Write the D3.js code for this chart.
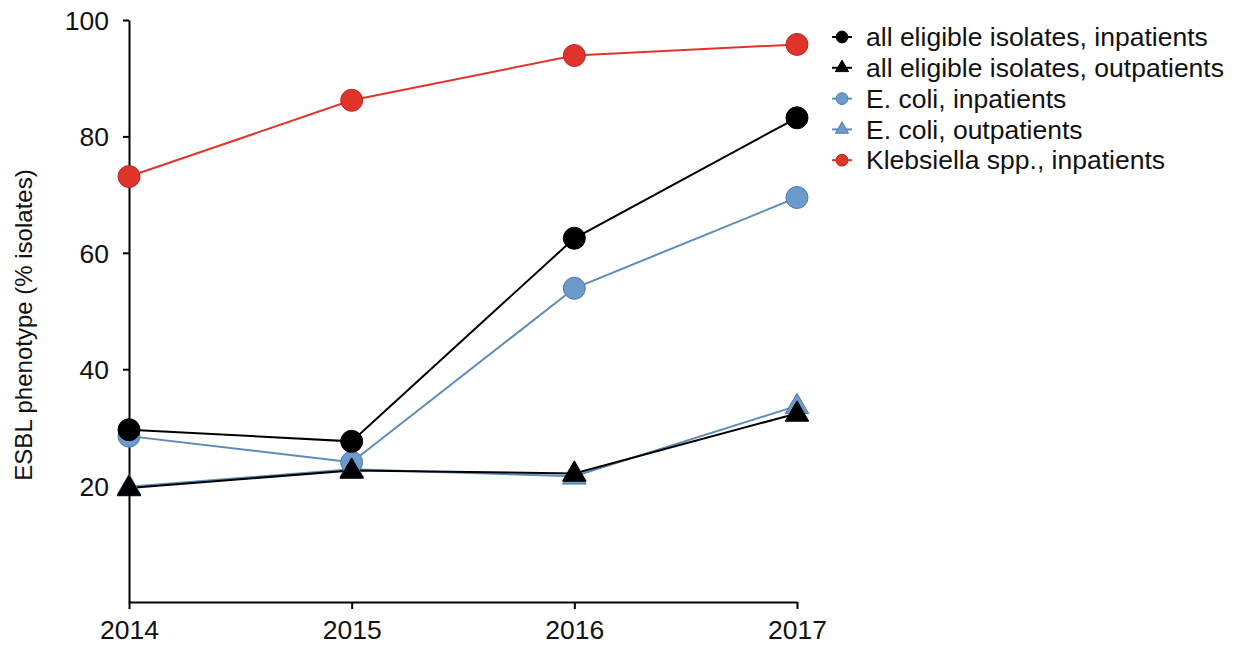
<!DOCTYPE html>
<html>
<head>
<meta charset="utf-8">
<script src="https://cdn.jsdelivr.net/npm/d3@7/dist/d3.min.js"></script>
<style>
  html, body { margin: 0; padding: 0; background: #fff; }
  svg text { font-family: "Liberation Sans", Arial, Helvetica, sans-serif; fill: #111; }
</style>
</head>
<body>
<svg id="chart" width="1234" height="647"></svg>
<script>
// Survey years on the x axis
const years = [2014, 2015, 2016, 2017];
// ESBL phenotype share (% of isolates) per series
const allInpatients = [29.6, 27.6, 62.5, 83.2];
const allOutpatients = [19.6, 22.6, 22.1, 32.4];
const ecoliInpatients = [28.5, 24.0, 53.9, 69.5];
const ecoliOutpatients = [19.8, 22.8, 21.6, 33.7];
const klebsiellaInpatients = [73.1, 86.2, 93.9, 95.8];
const yTicks = [20, 40, 60, 80, 100];

// Series in draw order (later ones sit on top)
const series = [
  { name: "E. coli, outpatients", values: ecoliOutpatients, shape: "triangle", fill: "#6b9acb", stroke: "#4f7ba8", line: "#5f8bb8" },
  { name: "E. coli, inpatients", values: ecoliInpatients, shape: "circle", fill: "#6b9acb", stroke: "#4f7ba8", line: "#5f8bb8" },
  { name: "all eligible isolates, outpatients", values: allOutpatients, shape: "triangle", fill: "#000", stroke: "#000", line: "#000" },
  { name: "all eligible isolates, inpatients", values: allInpatients, shape: "circle", fill: "#000", stroke: "#000", line: "#000" },
  { name: "Klebsiella spp., inpatients", values: klebsiellaInpatients, shape: "circle", fill: "#e0342a", stroke: "#b32a22", line: "#e0342a" }
];
const legendOrder = [
  "all eligible isolates, inpatients",
  "all eligible isolates, outpatients",
  "E. coli, inpatients",
  "E. coli, outpatients",
  "Klebsiella spp., inpatients"
];

const svg = d3.select("#chart");
const margin = { left: 129, top: 20 };
const width = 668, height = 582;

const x = d3.scalePoint().domain(years).range([0, width]);
const y = d3.scaleLinear().domain([0, 100]).range([height, 0]);

const g = svg.append("g").attr("transform", `translate(${margin.left},${margin.top})`);

// Axes
const yAxis = g.append("g")
  .call(d3.axisLeft(y).tickValues(yTicks).tickSize(6).tickSizeOuter(0).tickFormat(d3.format("d")));
const xAxis = g.append("g").attr("transform", `translate(0,${height})`)
  .call(d3.axisBottom(x).tickSize(7).tickSizeOuter(0).tickFormat(d3.format("d")));
[yAxis, xAxis].forEach(a => {
  a.select(".domain").attr("stroke", "#000").attr("stroke-width", 2);
  a.selectAll(".tick line").attr("stroke", "#000").attr("stroke-width", 2);
  a.selectAll(".tick text").style("font-size", "26.5px").attr("fill", "#111");
});
yAxis.selectAll(".tick text").attr("x", -20).attr("dy", "0.36em");
xAxis.selectAll(".tick text").attr("y", 17).attr("dy", "0.75em");

// Y axis title
svg.append("text")
  .attr("transform", `translate(32,${margin.top + 305}) rotate(-90)`)
  .attr("text-anchor", "middle")
  .style("font-size", "24px")
  .text("ESBL phenotype (% isolates)");

const sym = {
  circle: d3.symbol().type(d3.symbolCircle),
  triangle: d3.symbol().type(d3.symbolTriangle)
};
const line = d3.line().x((d, i) => x(years[i])).y(d => y(d));

// Lines first, then markers in series order
series.forEach(s => {
  g.append("path").datum(s.values)
    .attr("d", line)
    .attr("fill", "none")
    .attr("stroke", s.line)
    .attr("stroke-width", 2);
});
series.forEach(s => {
  g.selectAll(null).data(s.values).enter().append("path")
    .attr("transform", (d, i) => `translate(${x(years[i])},${y(d)})` + (s.shape === "triangle" ? " translate(0,1)" : ""))
    .attr("d", s.shape === "circle" ? sym.circle.size(380)() : sym.triangle.size(240)())
    .attr("fill", s.fill)
    .attr("stroke", s.stroke)
    .attr("stroke-width", 1);
});

// Legend
const legend = svg.append("g").attr("transform", "translate(842,37)");
legendOrder.forEach((name, i) => {
  const s = series.find(d => d.name === name);
  const row = legend.append("g").attr("transform", `translate(0,${i * 30.8})`);
  row.append("line").attr("x1", -10).attr("x2", 10).attr("y1", 0).attr("y2", 0)
    .attr("stroke", s.line).attr("stroke-width", 2);
  row.append("path")
    .attr("d", s.shape === "circle" ? sym.circle.size(110)() : sym.triangle.size(75)())
    .attr("fill", s.fill).attr("stroke", s.stroke).attr("stroke-width", 1);
  row.append("text").attr("x", 24).attr("y", 0).attr("dy", "0.35em")
    .style("font-size", "26.5px").text(name);
});
</script>
</body>
</html>
